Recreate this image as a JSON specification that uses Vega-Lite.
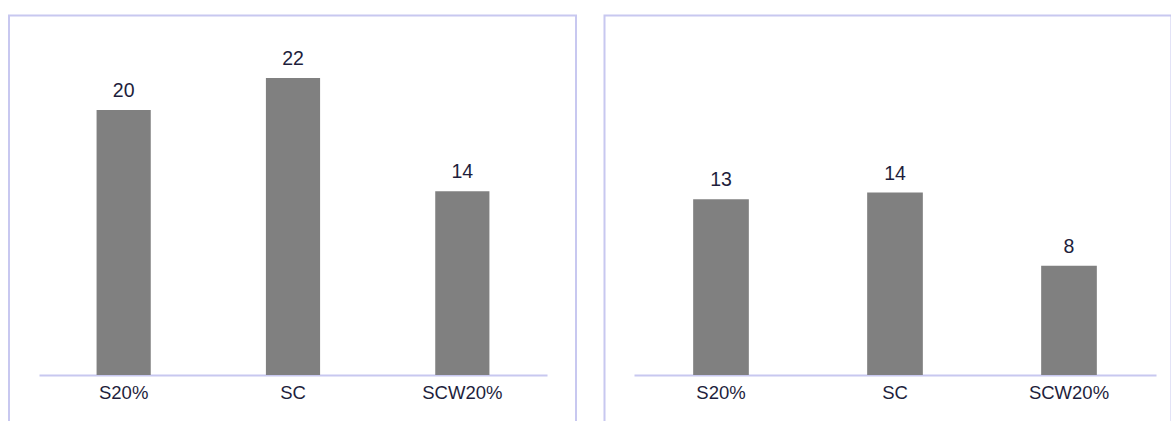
{
  "$schema": "https://vega.github.io/schema/vega-lite/v6.json",
  "padding": {"left": 8, "top": 14.5, "right": 0, "bottom": 0},
  "bounds": "flush",
  "spacing": 28.5,
  "config": {
    "view": {"stroke": "#c8c8f0", "strokeWidth": 2},
    "axis": {"labelFont": "Liberation Sans", "labelFontSize": 18.5, "labelColor": "#1e1e3c"},
    "text": {"font": "Liberation Sans", "fontSize": 19.5, "color": "#1e1e3c"}
  },
  "datasets": {
    "left": [
      {"cat": "S20%", "v": 19.9},
      {"cat": "SC", "v": 22.3},
      {"cat": "SCW20%", "v": 13.8}
    ],
    "right": [
      {"cat": "S20%", "v": 13.2},
      {"cat": "SC", "v": 13.7},
      {"cat": "SCW20%", "v": 8.2}
    ]
  },
  "hconcat": [
    {
      "width": 567,
      "height": 430,
      "data": {"name": "left"},
      "encoding": {
        "x": {"field": "cat", "type": "nominal", "sort": null,
          "scale": {"range": [30, 538], "paddingInner": 0, "paddingOuter": 0},
          "axis": {"title": null, "labelAngle": 0, "ticks": false, "domainColor": "#c8c8f0", "domainWidth": 2, "offset": -70.5, "labelPadding": 8.5}},
        "y": {"field": "v", "type": "quantitative", "scale": {"domain": [0, 27], "range": [359.5, 0]}, "axis": null}
      },
      "layer": [
        {"mark": {"type": "bar", "color": "#808080", "width": {"band": 0.32}}},
        {"mark": {"type": "text", "baseline": "alphabetic", "dy": -13, "align": "center"},
         "encoding": {"text": {"field": "v", "type": "quantitative", "format": ".0f"}}}
      ]
    },
    {
      "width": 567,
      "height": 430,
      "data": {"name": "right"},
      "encoding": {
        "x": {"field": "cat", "type": "nominal", "sort": null,
          "scale": {"range": [29.5, 551.5], "paddingInner": 0, "paddingOuter": 0},
          "axis": {"title": null, "labelAngle": 0, "ticks": false, "domainColor": "#c8c8f0", "domainWidth": 2, "offset": -70.5, "labelPadding": 8.5}},
        "y": {"field": "v", "type": "quantitative", "scale": {"domain": [0, 27], "range": [359.5, 0]}, "axis": null}
      },
      "layer": [
        {"mark": {"type": "bar", "color": "#808080", "width": {"band": 0.32}}},
        {"mark": {"type": "text", "baseline": "alphabetic", "dy": -13, "align": "center"},
         "encoding": {"text": {"field": "v", "type": "quantitative", "format": ".0f"}}}
      ]
    }
  ]
}
